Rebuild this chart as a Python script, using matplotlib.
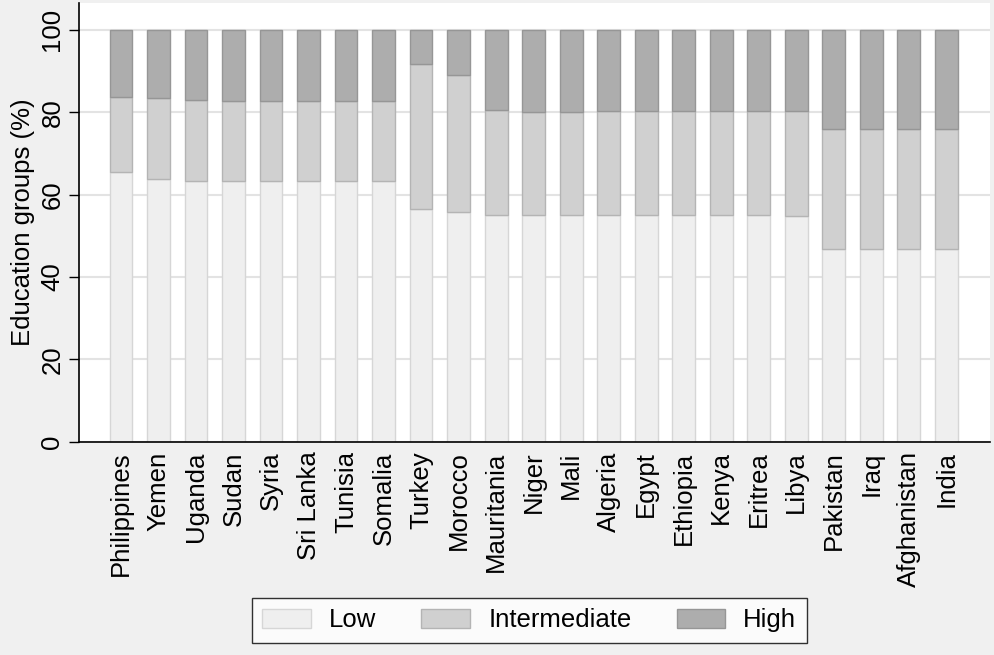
import matplotlib
matplotlib.use("Agg")
import matplotlib.pyplot as plt
import numpy as np

plt.rcParams['font.family'] = ['Liberation Sans', 'DejaVu Sans']

# countries in plotted order
countries = ["Philippines", "Yemen", "Uganda", "Sudan", "Syria", "Sri Lanka",
             "Tunisia", "Somalia", "Turkey", "Morocco", "Mauritania", "Niger",
             "Mali", "Algeria", "Egypt", "Ethiopia", "Kenya", "Eritrea", "Libya",
             "Pakistan", "Iraq", "Afghanistan", "India"]

# education shares (%)
low = [65.4, 63.9, 63.4, 63.2, 63.2, 63.2, 63.2, 63.2, 56.5, 55.8, 55.1, 55.0,
       55.0, 55.0, 55.0, 55.0, 55.0, 55.0, 54.8, 46.9, 46.9, 46.9, 46.9]
intermediate = [18.4, 19.5, 19.5, 19.6, 19.5, 19.6, 19.5, 19.5, 35.2, 33.2, 25.4,
                25.0, 25.0, 25.3, 25.3, 25.3, 25.2, 25.4, 25.4, 28.9, 28.9, 28.9, 28.9]
high = [16.2, 16.6, 17.1, 17.2, 17.3, 17.2, 17.3, 17.3, 8.3, 11.0, 19.5, 20.0,
        20.0, 19.7, 19.7, 19.7, 19.8, 19.6, 19.8, 24.2, 24.2, 24.2, 24.2]

series = [("Low", low, "#efefef", "#d6d6d6"),
          ("Intermediate", intermediate, "#d0d0d0", "#b4b4b4"),
          ("High", high, "#adadad", "#969696")]

bg = "#f0f0f0"
fs = 18.5

fig = plt.figure(figsize=(9.95, 6.55), dpi=100, facecolor=bg)
ax = fig.add_axes([0.0794, 0.3256, 0.9156, 0.6698])
ax.set_facecolor("white")

x = np.arange(len(countries))
bottom = np.zeros(len(countries))
handles = []
for name, vals, fc, ec in series:
    vals = np.array(vals)
    b = ax.bar(x, vals, width=0.61, bottom=bottom, color=fc, edgecolor=ec,
               linewidth=1.0, label=name, zorder=2)
    handles.append(b)
    bottom = bottom + vals

ax.set_xlim(-1.12, len(countries) - 1 + 1.17)
ax.set_ylim(0, 106.5)
ax.set_yticks([0, 20, 40, 60, 80, 100])
ax.set_yticklabels(["0", "20", "40", "60", "80", "100"], rotation=90, va="center",
                   fontsize=fs)
ax.set_xticks(x)
ax.set_xticklabels(countries, rotation=90, fontsize=fs)
ax.tick_params(axis="x", length=0, pad=7)
ax.tick_params(axis="y", length=7.5, width=1.0, pad=3, direction="out")
ax.set_ylabel("Education groups (%)", fontsize=fs, labelpad=4)

ax.yaxis.grid(True, color="#e3e3e3", linewidth=1.5, zorder=0)
ax.set_axisbelow(True)
for s in ["top", "right"]:
    ax.spines[s].set_visible(False)
ax.spines["left"].set_linewidth(1.2)
ax.spines["bottom"].set_linewidth(1.2)

leg = fig.legend(handles=handles, loc="center", bbox_to_anchor=(0.532, 0.053),
                 ncol=3, fontsize=fs, frameon=True, fancybox=False,
                 edgecolor="black", handlelength=1.9, handleheight=0.8,
                 handletextpad=0.7, columnspacing=1.75, borderpad=0.4,
                 borderaxespad=0.3)
leg.get_frame().set_linewidth(1.0)
leg.get_frame().set_facecolor("white")

fig.savefig("out.png", dpi=100, facecolor=bg)
